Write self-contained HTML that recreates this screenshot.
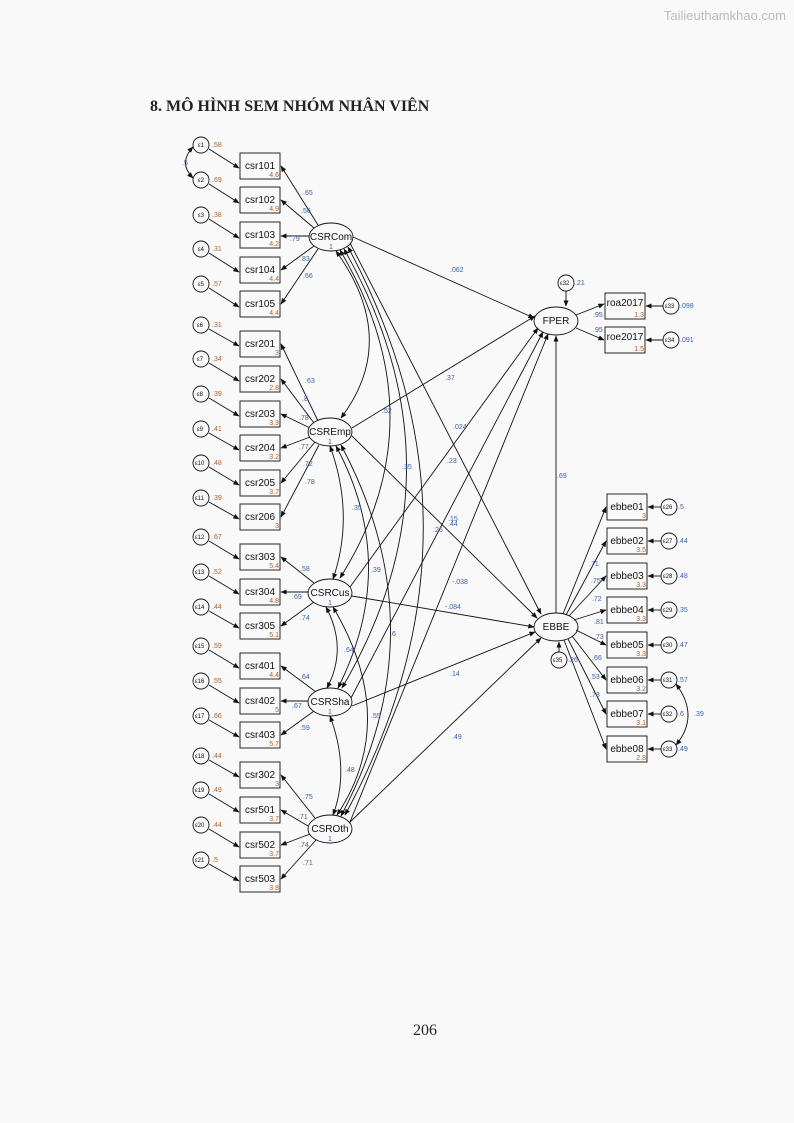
<!DOCTYPE html>
<html><head><meta charset="utf-8"><style>
body{margin:0;background:#f9f9f9;}
svg{display:block}
.t{font-family:"Liberation Sans",sans-serif;font-size:10px;fill:#111}
.s{font-family:"Liberation Sans",sans-serif;font-size:7px;fill:#3a5fa8}
.o{font-family:"Liberation Sans",sans-serif;font-size:7px;fill:#b0602a}
.e{font-family:"Liberation Sans",sans-serif;font-size:6px;fill:#111}
</style></head><body>
<svg width="794" height="1123" viewBox="0 0 794 1123" xmlns="http://www.w3.org/2000/svg">
<defs><marker id="a" viewBox="0 0 10 10" refX="9" refY="5" markerWidth="7" markerHeight="7" orient="auto-start-reverse"><path d="M0,1L10,5L0,9z" fill="#111"/></marker></defs>
<text x="786" y="20" text-anchor="end" font-family="Liberation Sans,sans-serif" font-size="13" fill="#bbb">Tailieuthamkhao.com</text>
<text x="150" y="111" font-family="Liberation Serif,serif" font-size="16" font-weight="bold" fill="#222">8. MÔ HÌNH SEM NHÓM NHÂN VIÊN</text>
<text x="425" y="1035" text-anchor="middle" font-family="Liberation Serif,serif" font-size="16" fill="#222">206</text>
<g stroke="#111" stroke-width="0.9" fill="none">
<!-- left boxes -->
<rect x="240" y="153" width="40" height="26"/><rect x="240" y="187" width="40" height="26"/><rect x="240" y="222" width="40" height="26"/><rect x="240" y="257" width="40" height="26"/><rect x="240" y="291" width="40" height="26"/>
<rect x="240" y="331" width="40" height="26"/><rect x="240" y="366" width="40" height="26"/><rect x="240" y="401" width="40" height="26"/><rect x="240" y="435" width="40" height="26"/><rect x="240" y="470" width="40" height="26"/><rect x="240" y="504" width="40" height="26"/>
<rect x="240" y="544" width="40" height="26"/><rect x="240" y="579" width="40" height="26"/><rect x="240" y="613" width="40" height="26"/>
<rect x="240" y="653" width="40" height="26"/><rect x="240" y="688" width="40" height="26"/><rect x="240" y="722" width="40" height="26"/>
<rect x="240" y="762" width="40" height="26"/><rect x="240" y="797" width="40" height="26"/><rect x="240" y="832" width="40" height="26"/><rect x="240" y="866" width="40" height="26"/>
<!-- error circles left -->
<g>
<circle cx="201" cy="145" r="8"/><circle cx="201" cy="180" r="8"/><circle cx="201" cy="215" r="8"/><circle cx="201" cy="249" r="8"/><circle cx="201" cy="284" r="8"/>
<circle cx="201" cy="325" r="8"/><circle cx="201" cy="359" r="8"/><circle cx="201" cy="394" r="8"/><circle cx="201" cy="429" r="8"/><circle cx="201" cy="463" r="8"/><circle cx="201" cy="498" r="8"/>
<circle cx="201" cy="537" r="8"/><circle cx="201" cy="572" r="8"/><circle cx="201" cy="607" r="8"/>
<circle cx="201" cy="646" r="8"/><circle cx="201" cy="681" r="8"/><circle cx="201" cy="716" r="8"/>
<circle cx="201" cy="756" r="8"/><circle cx="201" cy="790" r="8"/><circle cx="201" cy="825" r="8"/><circle cx="201" cy="860" r="8"/>
</g>
<g marker-end="url(#a)">
<line x1="209" y1="149" x2="239" y2="168"/><line x1="209" y1="184" x2="239" y2="203"/><line x1="209" y1="219" x2="239" y2="238"/><line x1="209" y1="253" x2="239" y2="272"/><line x1="209" y1="288" x2="239" y2="307"/>
<line x1="209" y1="329" x2="239" y2="346"/><line x1="209" y1="363" x2="239" y2="381"/><line x1="209" y1="398" x2="239" y2="416"/><line x1="209" y1="433" x2="239" y2="450"/><line x1="209" y1="467" x2="239" y2="485"/><line x1="209" y1="502" x2="239" y2="519"/>
<line x1="209" y1="541" x2="239" y2="559"/><line x1="209" y1="576" x2="239" y2="594"/><line x1="209" y1="611" x2="239" y2="628"/>
<line x1="209" y1="650" x2="239" y2="668"/><line x1="209" y1="685" x2="239" y2="703"/><line x1="209" y1="720" x2="239" y2="737"/>
<line x1="209" y1="760" x2="239" y2="777"/><line x1="209" y1="794" x2="239" y2="812"/><line x1="209" y1="829" x2="239" y2="847"/><line x1="209" y1="864" x2="239" y2="881"/>
</g>
<path d="M193,147 Q178,163 193,178" marker-start="url(#a)" marker-end="url(#a)"/>
<!-- loadings -->
<g marker-end="url(#a)">
<line x1="318" y1="225" x2="281" y2="166"/><line x1="314" y1="228" x2="281" y2="200"/><line x1="309" y1="236" x2="281" y2="236"/><line x1="314" y1="246" x2="281" y2="270"/><line x1="318" y1="249" x2="281" y2="304"/>
<line x1="318" y1="421" x2="281" y2="344"/><line x1="314" y1="423" x2="281" y2="379"/><line x1="310" y1="428" x2="281" y2="414"/><line x1="310" y1="437" x2="281" y2="448"/><line x1="315" y1="442" x2="281" y2="483"/><line x1="319" y1="445" x2="281" y2="517"/>
<line x1="314" y1="583" x2="281" y2="557"/><line x1="308" y1="592" x2="281" y2="592"/><line x1="314" y1="602" x2="281" y2="626"/>
<line x1="316" y1="692" x2="281" y2="666"/><line x1="308" y1="701" x2="281" y2="701"/><line x1="314" y1="711" x2="281" y2="735"/>
<line x1="315" y1="818" x2="281" y2="775"/><line x1="308" y1="826" x2="281" y2="810"/><line x1="310" y1="834" x2="281" y2="845"/><line x1="316" y1="840" x2="281" y2="879"/>
</g>
<!-- latents -->
<ellipse cx="331" cy="237" rx="22" ry="14" fill="#f9f9f9"/>
<ellipse cx="330" cy="432" rx="22" ry="14" fill="#f9f9f9"/>
<ellipse cx="330" cy="593" rx="22" ry="14" fill="#f9f9f9"/>
<ellipse cx="330" cy="702" rx="22" ry="14" fill="#f9f9f9"/>
<ellipse cx="330" cy="829" rx="22" ry="14" fill="#f9f9f9"/>
<ellipse cx="556" cy="321" rx="22" ry="14" fill="#f9f9f9"/>
<ellipse cx="556" cy="627" rx="22" ry="14" fill="#f9f9f9"/>
<!-- covariances -->
<g marker-start="url(#a)" marker-end="url(#a)">
<path d="M336,251 Q400,340 341,418"/>
<path d="M340,250 Q440,420 340,578"/>
<path d="M344,249 Q470,470 342,688"/>
<path d="M348,247 Q500,530 345,815"/>
<path d="M330,446 Q355,515 333,579"/>
<path d="M336,446 Q400,565 338,688"/>
<path d="M341,445 Q440,630 341,816"/>
<path d="M326,607 Q348,648 327,688"/>
<path d="M333,607 Q400,720 337,815"/>
<path d="M330,716 Q350,770 333,815"/>
</g>
<!-- structural -->
<g marker-end="url(#a)">
<line x1="353" y1="237" x2="534" y2="318"/>
<line x1="350" y1="243" x2="541" y2="614"/>
<line x1="352" y1="428" x2="535" y2="316"/>
<line x1="352" y1="436" x2="537" y2="618"/>
<line x1="350" y1="587" x2="538" y2="328"/>
<line x1="352" y1="596" x2="534" y2="627"/>
<line x1="351" y1="698" x2="543" y2="332"/>
<line x1="352" y1="706" x2="535" y2="632"/>
<line x1="350" y1="822" x2="548" y2="334"/>
<line x1="349" y1="823" x2="541" y2="638"/>
<line x1="556" y1="613" x2="556" y2="336"/>
</g>
<!-- FPER side -->
<circle cx="566" cy="283" r="8"/><line x1="566" y1="291" x2="566" y2="306" marker-end="url(#a)"/>
<rect x="605" y="293" width="40" height="26"/><rect x="605" y="327" width="40" height="26"/>
<line x1="576" y1="315" x2="604" y2="304" marker-end="url(#a)"/><line x1="576" y1="328" x2="604" y2="340" marker-end="url(#a)"/>
<circle cx="671" cy="306" r="8"/><circle cx="671" cy="340" r="8"/>
<line x1="663" y1="306" x2="646" y2="306" marker-end="url(#a)"/><line x1="663" y1="340" x2="646" y2="340" marker-end="url(#a)"/>
<!-- EBBE side -->
<circle cx="559" cy="660" r="8"/><line x1="559" y1="652" x2="559" y2="642" marker-end="url(#a)"/>
<rect x="607" y="494" width="40" height="26"/><rect x="607" y="528" width="40" height="26"/><rect x="607" y="563" width="40" height="26"/><rect x="607" y="597" width="40" height="26"/><rect x="607" y="632" width="40" height="26"/><rect x="607" y="667" width="40" height="26"/><rect x="607" y="701" width="40" height="26"/><rect x="607" y="736" width="40" height="26"/>
<g marker-end="url(#a)">
<line x1="563" y1="614" x2="606" y2="507"/><line x1="566" y1="615" x2="606" y2="541"/><line x1="569" y1="616" x2="606" y2="576"/><line x1="574" y1="620" x2="606" y2="610"/><line x1="576" y1="630" x2="606" y2="645"/><line x1="572" y1="636" x2="606" y2="680"/><line x1="568" y1="639" x2="606" y2="714"/><line x1="564" y1="640" x2="606" y2="749"/>
</g>
<circle cx="669" cy="507" r="8"/><circle cx="669" cy="541" r="8"/><circle cx="669" cy="576" r="8"/><circle cx="669" cy="610" r="8"/><circle cx="669" cy="645" r="8"/><circle cx="669" cy="680" r="8"/><circle cx="669" cy="714" r="8"/><circle cx="669" cy="749" r="8"/>
<g marker-end="url(#a)">
<line x1="661" y1="507" x2="648" y2="507"/><line x1="661" y1="541" x2="648" y2="541"/><line x1="661" y1="576" x2="648" y2="576"/><line x1="661" y1="610" x2="648" y2="610"/><line x1="661" y1="645" x2="648" y2="645"/><line x1="661" y1="680" x2="648" y2="680"/><line x1="661" y1="714" x2="648" y2="714"/><line x1="661" y1="749" x2="648" y2="749"/>
</g>
<path d="M676,684 Q700,716 676,745" marker-start="url(#a)" marker-end="url(#a)"/>
</g>
<!-- box labels -->
<g class="t" text-anchor="middle">
<text x="260" y="169">csr101</text><text x="260" y="203">csr102</text><text x="260" y="238">csr103</text><text x="260" y="273">csr104</text><text x="260" y="307">csr105</text>
<text x="260" y="347">csr201</text><text x="260" y="382">csr202</text><text x="260" y="417">csr203</text><text x="260" y="451">csr204</text><text x="260" y="486">csr205</text><text x="260" y="520">csr206</text>
<text x="260" y="560">csr303</text><text x="260" y="595">csr304</text><text x="260" y="629">csr305</text>
<text x="260" y="669">csr401</text><text x="260" y="704">csr402</text><text x="260" y="738">csr403</text>
<text x="260" y="778">csr302</text><text x="260" y="813">csr501</text><text x="260" y="848">csr502</text><text x="260" y="882">csr503</text>
<text x="331" y="240">CSRCom</text><text x="330" y="435">CSREmp</text><text x="330" y="596">CSRCus</text><text x="330" y="705">CSRSha</text><text x="330" y="832">CSROth</text>
<text x="556" y="324">FPER</text><text x="556" y="630">EBBE</text>
<text x="625" y="306">roa2017</text><text x="625" y="340">roe2017</text>
<text x="627" y="510">ebbe01</text><text x="627" y="544">ebbe02</text><text x="627" y="579">ebbe03</text><text x="627" y="613">ebbe04</text><text x="627" y="648">ebbe05</text><text x="627" y="683">ebbe06</text><text x="627" y="717">ebbe07</text><text x="627" y="752">ebbe08</text>
</g>
<g class="s" text-anchor="middle"><text x="331" y="249">1</text><text x="330" y="444">1</text><text x="330" y="605">1</text><text x="330" y="714">1</text><text x="330" y="841">1</text></g>
<!-- intercepts -->
<g class="o" text-anchor="end">
<text x="279" y="177">4.6</text><text x="279" y="211">4.9</text><text x="279" y="246">4.2</text><text x="279" y="281">4.4</text><text x="279" y="315">4.4</text>
<text x="279" y="355">3</text><text x="279" y="390">2.8</text><text x="279" y="425">3.3</text><text x="279" y="459">3.2</text><text x="279" y="494">3.7</text><text x="279" y="528">3</text>
<text x="279" y="568">5.4</text><text x="279" y="603">4.8</text><text x="279" y="637">5.1</text>
<text x="279" y="677">4.4</text><text x="279" y="712">5</text><text x="279" y="746">5.7</text>
<text x="279" y="786">3</text><text x="279" y="821">3.7</text><text x="279" y="856">3.7</text><text x="279" y="890">3.8</text>
<text x="644" y="317">1.3</text><text x="644" y="351">1.5</text>
<text x="646" y="518">3</text><text x="646" y="552">3.5</text><text x="646" y="587">3.3</text><text x="646" y="621">3.3</text><text x="646" y="656">3.3</text><text x="646" y="691">3.2</text><text x="646" y="725">3.1</text><text x="646" y="760">2.8</text>
</g>
<!-- error variances -->
<g class="o">
<text x="212" y="147">.58</text><text x="212" y="182">.69</text><text x="212" y="217">.38</text><text x="212" y="251">.31</text><text x="212" y="286">.57</text>
<text x="212" y="327">.31</text><text x="212" y="361">.34</text><text x="212" y="396">.39</text><text x="212" y="431">.41</text><text x="212" y="465">.48</text><text x="212" y="500">.39</text>
<text x="212" y="539">.67</text><text x="212" y="574">.52</text><text x="212" y="609">.44</text>
<text x="212" y="648">.59</text><text x="212" y="683">.55</text><text x="212" y="718">.66</text>
<text x="212" y="758">.44</text><text x="212" y="792">.49</text><text x="212" y="827">.44</text><text x="212" y="862">.5</text>
</g>
<g class="s"><text x="182" y="165">.5</text>
<text x="575" y="285">.21</text><text x="680" y="308">.098</text><text x="680" y="342">.091</text>
<text x="568" y="662">.26</text>
<text x="678" y="509">.5</text><text x="678" y="543">.44</text><text x="678" y="578">.48</text><text x="678" y="612">.35</text><text x="678" y="647">.47</text><text x="678" y="682">.57</text><text x="678" y="716">.6</text><text x="678" y="751">.49</text><text x="694" y="716">.39</text>
<text x="303" y="195">.65</text><text x="301" y="213">.56</text><text x="290" y="241">.79</text><text x="300" y="261">.83</text><text x="303" y="278">.66</text>
<text x="305" y="383">.63</text><text x="302" y="401">.8</text><text x="299" y="420">.78</text><text x="299" y="449">.77</text><text x="303" y="466">.72</text><text x="305" y="484">.78</text>
<text x="300" y="571">.58</text><text x="292" y="599">.69</text><text x="300" y="620">.74</text>
<text x="300" y="679">.64</text><text x="292" y="708">.67</text><text x="300" y="730">.59</text>
<text x="303" y="799">.75</text><text x="298" y="819">.71</text><text x="299" y="847">.74</text><text x="303" y="865">.71</text>
<text x="593" y="317">.95</text><text x="593" y="332">.95</text>
<text x="589" y="566">.71</text><text x="591" y="583">.75</text><text x="592" y="601">.72</text><text x="594" y="624">.81</text><text x="594" y="639">.73</text><text x="592" y="660">.66</text><text x="590" y="679">.53</text><text x="590" y="697">.73</text>
<text x="450" y="272">.062</text><text x="445" y="380">.37</text><text x="453" y="429">.024</text><text x="447" y="463">.23</text><text x="448" y="521">.15</text><text x="448" y="526">.44</text><text x="452" y="584">-.038</text><text x="445" y="609">-.084</text><text x="450" y="676">.14</text><text x="452" y="739">.49</text>
<text x="557" y="478">.69</text>
<text x="382" y="413">.52</text><text x="402" y="469">.35</text><text x="352" y="510">.35</text><text x="371" y="572">.39</text><text x="433" y="532">.26</text><text x="390" y="636">.6</text><text x="344" y="652">.64</text><text x="371" y="718">.55</text><text x="345" y="772">.48</text>
</g>
<g class="e"><text x="198" y="147">ε1</text><text x="198" y="182">ε2</text><text x="198" y="217">ε3</text><text x="198" y="251">ε4</text><text x="198" y="286">ε5</text>
<text x="197" y="327">ε6</text><text x="197" y="361">ε7</text><text x="197" y="396">ε8</text><text x="197" y="431">ε9</text><text x="195" y="465">ε10</text><text x="195" y="500">ε11</text>
<text x="195" y="539">ε12</text><text x="195" y="574">ε13</text><text x="195" y="609">ε14</text><text x="195" y="648">ε15</text><text x="195" y="683">ε16</text><text x="195" y="718">ε17</text>
<text x="195" y="758">ε18</text><text x="195" y="792">ε19</text><text x="195" y="827">ε20</text><text x="195" y="862">ε21</text>
<text x="560" y="285">ε32</text><text x="665" y="308">ε33</text><text x="665" y="342">ε34</text><text x="553" y="662">ε35</text>
<text x="663" y="509">ε26</text><text x="663" y="543">ε27</text><text x="663" y="578">ε28</text><text x="663" y="612">ε29</text><text x="663" y="647">ε30</text><text x="663" y="682">ε31</text><text x="663" y="716">ε32</text><text x="663" y="751">ε33</text></g>
</svg>
</body></html>
